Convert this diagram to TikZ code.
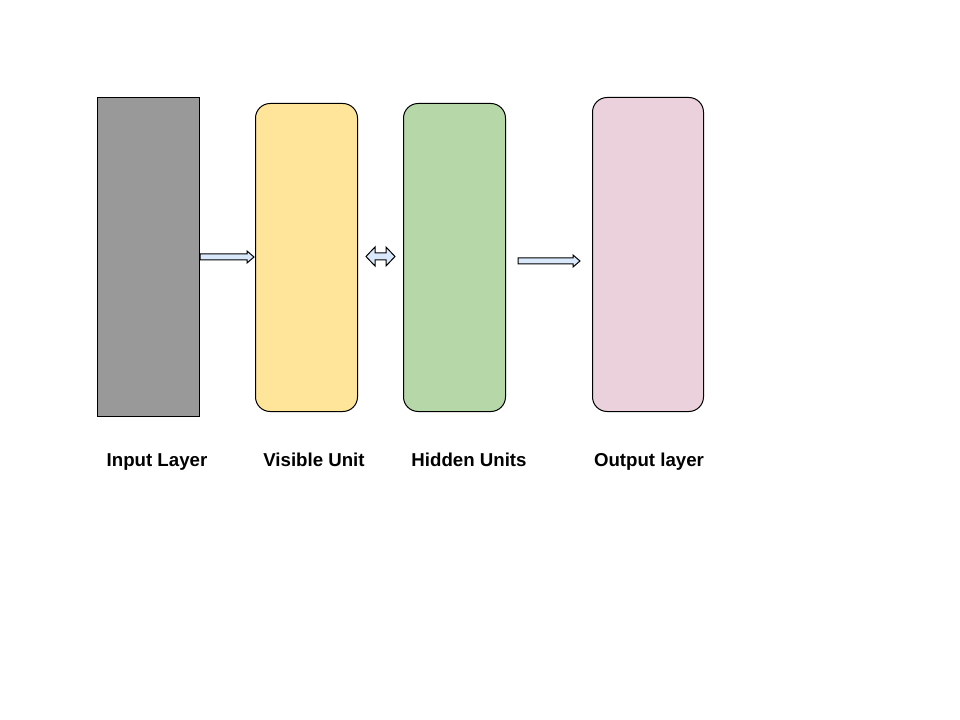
\documentclass[tikz,border=0pt]{standalone}
\usepackage{fontspec}
\setmainfont{Liberation Sans}
\usetikzlibrary{calc}
\definecolor{greyfill}{HTML}{999999}
\definecolor{visfill}{HTML}{FFE599}
\definecolor{hidfill}{HTML}{B6D7A8}
\definecolor{outfill}{HTML}{EAD1DC}
\definecolor{arrfill}{HTML}{DAE8FC}
\begin{document}
\begin{tikzpicture}[x=0.75pt,y=-0.75pt,
  layer/.style={draw=black,line width=0.75pt,inner sep=0pt,anchor=north west},
  rlayer/.style={layer,rounded corners=11pt},
  lbl/.style={font=\bfseries\fontsize{14pt}{16pt}\selectfont,anchor=base},
  blockarrow/.style={draw=black,line width=0.75pt,fill=arrfill,line join=miter}]
\useasboundingbox (0,0) rectangle (960,720);
\fill[white] (0,0) rectangle (960,720);
\node[layer,fill=greyfill,minimum width=76.5pt,minimum height=239.25pt] (in) at (97,97) {};
\node[rlayer,fill=visfill,minimum width=76.5pt,minimum height=231pt] (vis) at (255,103) {};
\node[rlayer,fill=hidfill,minimum width=76.5pt,minimum height=231pt] (hid) at (403,103) {};
\node[rlayer,fill=outfill,minimum width=83.25pt,minimum height=235.5pt] (out) at (592,97) {};
\node[lbl] (lin) at (157,466.5) {Input Layer};
\node[lbl] (lvis) at (314,466.5) {Visible Unit};
\node[lbl] (lhid) at (469,466.5) {Hidden Units};
\node[lbl] (lout) at (649,466.5) {Output layer};
% arrow input -> visible
\draw[blockarrow] (200,254) -- (247,254) -- (247,251) -- (254,257) -- (247,263) -- (247,260) -- (200,260) -- cycle;
% double arrow visible <-> hidden
\draw[blockarrow] (366,256.5) -- (375,247) -- (375,253) -- (386,253) -- (386,247) -- (395,256.5) -- (386,266) -- (386,260) -- (375,260) -- (375,266) -- cycle;
% arrow hidden -> output
\draw[blockarrow] (518,258) -- (573,258) -- (573,255) -- (580,261) -- (573,267) -- (573,264) -- (518,264) -- cycle;
\end{tikzpicture}
\end{document}
